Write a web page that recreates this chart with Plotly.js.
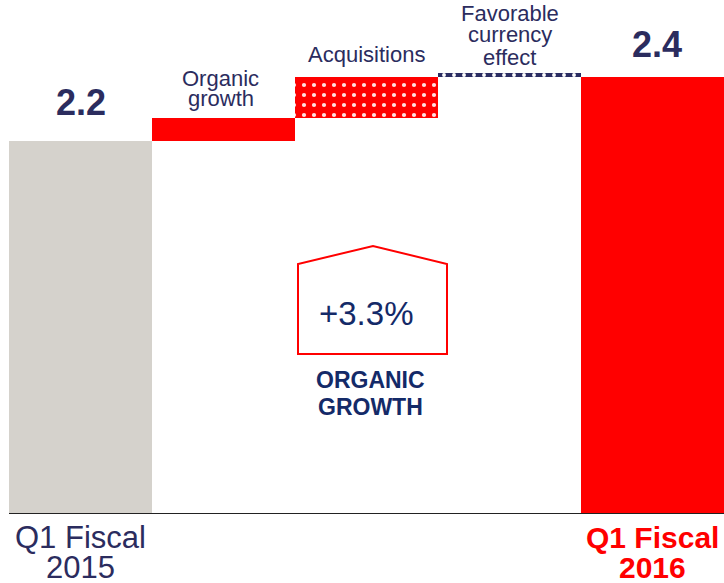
<!DOCTYPE html>
<html>
<head>
<meta charset="utf-8">
<script src="https://cdn.plot.ly/plotly-3.0.1.min.js"></script>
<style>html,body{margin:0;padding:0;background:#fff;}#chart{width:724px;height:583px;}</style>
</head>
<body>
<div id="chart"></div>
<script>
// ---- data ----
const categories = ['Q1 Fiscal 2015', 'Organic growth', 'Acquisitions', 'Favorable currency effect', 'Q1 Fiscal 2016'];
const startValue = 2.2;
const endValue = 2.4;
const stepValues = [0.072, 0.128, 0.012];   // organic, acquisitions, currency
const valueLabels = ['2.2', '2.4'];
const stepLabels = [['Organic', 'growth'], ['Acquisitions'], ['Favorable', 'currency', 'effect']];
const xLabelLines = [['Q1 Fiscal', '2015'], ['Q1 Fiscal', '2016']];
const organicGrowthPct = '+3.3%';
const organicGrowthLabel = ['ORGANIC', 'GROWTH'];

// ---- style ----
const NAVY = '#2b2c5e';
const DARKBLUE = '#142a68';
const RED = '#ff0000';
const GRAY = '#d5d2cc';
const FONT = 'Liberation Sans, Arial, sans-serif';

const xs = categories.map((c, i) => i);
// running bases for the step bars
const bases = [];
let run = startValue;
stepValues.forEach(v => { bases.push(run); run += v; });

const traces = [
  { type: 'bar', x: [xs[0], xs[4]], y: [startValue, endValue], base: [0, 0], width: 1,
    marker: { color: [GRAY, RED], line: { width: 0 } }, hoverinfo: 'skip' },
  { type: 'bar', x: [xs[1]], y: [stepValues[0]], base: [bases[0]], width: 1,
    marker: { color: RED, line: { width: 0 } }, hoverinfo: 'skip' },
  { type: 'bar', x: [xs[2]], y: [stepValues[1]], base: [bases[1]], width: 1,
    marker: { color: RED, line: { width: 0 },
      pattern: { shape: '.', bgcolor: RED, fgcolor: '#ffe0e0', size: 10, solidity: 0.14, fillmode: 'replace' } },
    hoverinfo: 'skip' },
  { type: 'bar', x: [xs[3]], y: [stepValues[2]], base: [bases[2]], width: 1,
    marker: { color: '#2b2d62', line: { width: 0 },
      pattern: { shape: '.', bgcolor: '#2b2d62', fgcolor: '#ffffff', size: 10, solidity: 0.12, fillmode: 'replace' } },
    hoverinfo: 'skip' }
];

// plot area: 9..724 px horizontally, 0..513 px vertically
const PH = 513;
const py = p => 1 - p / PH;   // pixel y -> paper y

const ann = [];
function txt(x, pyPix, text, size, color, bold) {
  ann.push({ x: x, y: py(pyPix), xref: 'x', yref: 'paper', text: bold ? '<b>' + text + '</b>' : text,
    showarrow: false, xanchor: 'center', yanchor: 'middle',
    font: { family: FONT, size: size, color: color } });
}
// value labels
txt(xs[0], 103, valueLabels[0], 36, NAVY, true);
txt(xs[4] + 0.03, 44, valueLabels[1], 36, NAVY, true);
// step labels
txt(xs[1] - 0.02, 79, stepLabels[0][0], 22, NAVY);
txt(xs[1] - 0.02, 99, stepLabels[0][1], 22, NAVY);
txt(xs[2], 55, stepLabels[1][0], 22, NAVY);
txt(xs[3], 13, stepLabels[2][0], 22, NAVY);
txt(xs[3], 35, stepLabels[2][1], 22, NAVY);
txt(xs[3], 57, stepLabels[2][2], 22, NAVY);
// house callout text
txt(xs[2], 313, organicGrowthPct, 33, DARKBLUE);
txt(xs[2] + 0.03, 380, organicGrowthLabel[0], 23, DARKBLUE, true);
txt(xs[2] + 0.03, 407, organicGrowthLabel[1], 23, DARKBLUE, true);
// category labels
txt(xs[0], 537, xLabelLines[0][0], 31, NAVY);
txt(xs[0], 567, xLabelLines[0][1], 31, NAVY);
txt(xs[4], 537, xLabelLines[1][0], 30, RED, true);
txt(xs[4], 567, xLabelLines[1][1], 30, RED, true);

const px = p => (p - 9) / 715;
const housePath = 'M ' + px(298) + ',' + py(354) + ' L ' + px(298) + ',' + py(264) + ' L ' + px(373) + ',' + py(246) +
  ' L ' + px(447) + ',' + py(264) + ' L ' + px(447) + ',' + py(354) + ' Z';

const layout = {
  width: 724, height: 583,
  margin: { l: 9, r: 0, t: 0, b: 70, pad: 0 },
  paper_bgcolor: '#ffffff', plot_bgcolor: '#ffffff',
  barmode: 'overlay', bargap: 0, showlegend: false,
  xaxis: { range: [-0.5, 4.5], showgrid: false, zeroline: false, showticklabels: false,
    showline: true, linecolor: '#222222', linewidth: 1, ticks: '', fixedrange: true },
  yaxis: { range: [1.0375, 2.6406], visible: false, fixedrange: true },
  shapes: [{ type: 'path', xref: 'paper', yref: 'paper', path: housePath,
    line: { color: RED, width: 2 }, fillcolor: '#ffffff', layer: 'above' }],
  annotations: ann
};

Plotly.newPlot('chart', traces, layout, { displayModeBar: false, staticPlot: true });
</script>
</body>
</html>
